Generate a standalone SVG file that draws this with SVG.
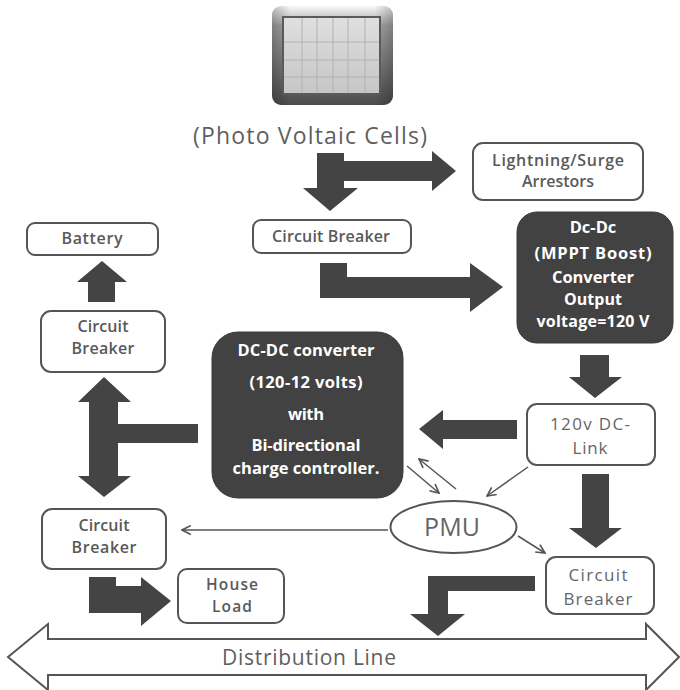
<svg xmlns="http://www.w3.org/2000/svg" width="680" height="690" viewBox="0 0 680 690">
  <style>
    .box { fill: #ffffff; stroke: #555555; stroke-width: 2; }
    .dark { fill: #424242; stroke: #3a3a3a; stroke-width: 1; }
    .flow { fill: #444444; }
    .thin { fill: none; stroke: #555555; stroke-width: 1.5; }
    .lbl { font-family: "Open Sans", "Liberation Sans", sans-serif; font-weight: 600; font-size: 16px; fill: #595959; text-anchor: middle; }
    .light { font-family: "Open Sans", "Liberation Sans", sans-serif; font-weight: 400; font-size: 17px; fill: #666666; text-anchor: middle; }
    .inv { font-family: "Open Sans", "Liberation Sans", sans-serif; font-weight: 700; font-size: 16.5px; fill: #ffffff; text-anchor: middle; }
    .big { font-family: "Open Sans", "Liberation Sans", sans-serif; font-weight: 400; fill: #5f5f5f; text-anchor: middle; }
  </style>
  <defs>
    <marker id="head" viewBox="0 0 10 10" refX="9" refY="5" markerWidth="11" markerHeight="11" markerUnits="userSpaceOnUse" orient="auto">
      <path d="M1,1 L9,5 L1,9" fill="none" stroke="#555555" stroke-width="1.5"/>
    </marker>
    <linearGradient id="frame" x1="0" y1="0" x2="0" y2="1">
      <stop offset="0" stop-color="#f8f8f8"/>
      <stop offset="0.2" stop-color="#a4a4a4"/>
      <stop offset="0.7" stop-color="#6e6e6e"/>
      <stop offset="1" stop-color="#4c4c4c"/>
    </linearGradient>
    <linearGradient id="frameSide" x1="0" y1="0" x2="1" y2="0">
      <stop offset="0" stop-color="#000000" stop-opacity="0.22"/>
      <stop offset="0.15" stop-color="#000000" stop-opacity="0"/>
      <stop offset="0.85" stop-color="#000000" stop-opacity="0"/>
      <stop offset="1" stop-color="#000000" stop-opacity="0.22"/>
    </linearGradient>
    <linearGradient id="cells" x1="0" y1="0" x2="0" y2="1">
      <stop offset="0" stop-color="#e0e0e0"/>
      <stop offset="0.5" stop-color="#d2d2d2"/>
      <stop offset="1" stop-color="#c6c6c6"/>
    </linearGradient>
  </defs>

  <!-- solar panel icon -->
  <g id="pv">
    <rect x="272" y="6" width="121" height="99" rx="9" fill="url(#frame)"/>
    <rect x="272" y="6" width="121" height="99" rx="9" fill="url(#frameSide)"/>
    <rect x="283" y="17" width="97" height="77" fill="url(#cells)" stroke="#5a5a5a" stroke-width="2"/>
    <g stroke="#b2b2b2" stroke-width="1">
      <line x1="302" y1="18" x2="302" y2="93"/>
      <line x1="317" y1="18" x2="317" y2="93"/>
      <line x1="333" y1="18" x2="333" y2="93"/>
      <line x1="348" y1="18" x2="348" y2="93"/>
      <line x1="365" y1="18" x2="365" y2="93"/>
      <line x1="284" y1="42" x2="379" y2="42"/>
      <line x1="284" y1="60" x2="379" y2="60"/>
      <line x1="284" y1="77" x2="379" y2="77"/>
    </g>
    <text class="big" x="310" y="144" style="font-size:23px" textLength="234">(Photo Voltaic Cells)</text>
  </g>

  <!-- flow connectors -->
  <g id="connectors">
    <!-- PV split: down to breaker, right to arrestors -->
    <path class="flow" d="M317,153 L344,153 L344,161 L432,161 L432,151 L456,171 L432,191 L432,181 L344,181 L344,188 L358,188 L330,211 L303,188 L317,188 Z"/>
    <!-- breaker to MPPT converter -->
    <path class="flow" d="M320,263 L347,263 L347,277 L470,277 L470,263 L503,287 L470,312 L470,298 L320,298 Z"/>
    <!-- MPPT converter to DC link -->
    <path class="flow" d="M580,355 L609,355 L609,377 L622,377 L595,398 L569,377 L580,377 Z"/>
    <!-- DC link to bidirectional converter -->
    <path class="flow" d="M517,420 L517,439 L443,439 L443,449 L419,429 L443,410 L443,420 Z"/>
    <!-- DC link to lower breaker -->
    <path class="flow" d="M582,474 L609,474 L609,528 L622,528 L596,548 L569,528 L582,528 Z"/>
    <!-- lower breaker to distribution line -->
    <path class="flow" d="M535,576 L535,591 L448,591 L448,614 L465,614 L438,636 L410,614 L428,614 L428,576 Z"/>
    <!-- breaker up to battery -->
    <path class="flow" d="M102,261 L127,282 L115,282 L115,302 L88,302 L88,282 L77,282 Z"/>
    <!-- bidirectional converter branch between breakers -->
    <path class="flow" d="M104,377 L131,402 L118,402 L118,424 L198,424 L198,443 L118,443 L118,476 L131,476 L104,497 L78,476 L89,476 L89,402 L78,402 Z"/>
    <!-- breaker to house load -->
    <path class="flow" d="M89,577 L116,577 L116,586 L141,586 L141,577 L171,601 L141,626 L141,613 L89,613 Z"/>
    <!-- PMU signal lines -->
    <line class="thin" x1="407" y1="466" x2="439" y2="493" marker-end="url(#head)"/>
    <line class="thin" x1="456" y1="489" x2="419" y2="459" marker-end="url(#head)"/>
    <line class="thin" x1="528" y1="467" x2="487" y2="496" marker-end="url(#head)"/>
    <line class="thin" x1="388" y1="530" x2="182" y2="530" marker-end="url(#head)"/>
    <line class="thin" x1="518" y1="536" x2="545" y2="553" marker-end="url(#head)"/>
  </g>

  <g id="battery">
    <rect class="box" x="27" y="223" width="131" height="32" rx="8"/>
    <text class="lbl" x="92" y="244" textLength="61">Battery</text>
  </g>

  <g id="breaker-pv">
    <rect class="box" x="253" y="220" width="158" height="33" rx="8"/>
    <text class="lbl" x="331" y="242" textLength="118">Circuit Breaker</text>
  </g>

  <g id="arrestors">
    <rect class="box" x="473" y="143" width="170" height="57" rx="10"/>
    <text class="lbl" x="558" y="166" textLength="132">Lightning/Surge</text>
    <text class="lbl" x="558" y="187" textLength="72">Arrestors</text>
  </g>

  <g id="mppt">
    <rect class="dark" x="517" y="212" width="156" height="131" rx="20"/>
    <text class="inv" x="593" y="233">Dc-Dc</text>
    <text class="inv" x="593" y="259" textLength="117">(MPPT Boost)</text>
    <text class="inv" x="593" y="283" textLength="82">Converter</text>
    <text class="inv" x="593" y="305" style="font-size:16px">Output</text>
    <text class="inv" x="593" y="327" style="font-size:16px" textLength="113">voltage=120 V</text>
  </g>

  <g id="breaker-battery">
    <rect class="box" x="41" y="311" width="124" height="61" rx="10"/>
    <text class="lbl" x="103" y="332" textLength="51">Circuit</text>
    <text class="lbl" x="103" y="354" textLength="63">Breaker</text>
  </g>

  <g id="bidirectional">
    <rect class="dark" x="212" y="332" width="191" height="166" rx="26"/>
    <text class="inv" x="306" y="356" textLength="137">DC-DC converter</text>
    <text class="inv" x="306" y="388" textLength="113">(120-12 volts)</text>
    <text class="inv" x="306" y="420" textLength="36">with</text>
    <text class="inv" x="306" y="451" textLength="109">Bi-directional</text>
    <text class="inv" x="306" y="474" textLength="147">charge controller.</text>
  </g>

  <g id="dc-link">
    <rect class="box" x="527" y="404" width="128" height="61" rx="10"/>
    <text class="light" x="590" y="430" textLength="80">120v DC-</text>
    <text class="light" x="590" y="454" textLength="35">Link</text>
  </g>

  <g id="pmu">
    <ellipse class="box" cx="453.5" cy="527" rx="63" ry="26"/>
    <text class="light" x="452" y="536" style="font-size:25px" textLength="56">PMU</text>
  </g>

  <g id="breaker-load">
    <rect class="box" x="42" y="509" width="124" height="60" rx="10"/>
    <text class="lbl" x="104" y="531" textLength="51">Circuit</text>
    <text class="lbl" x="104" y="553" textLength="65">Breaker</text>
  </g>

  <g id="house-load">
    <rect class="box" x="178" y="569" width="106" height="54" rx="9"/>
    <text class="lbl" x="232" y="590" style="font-size:15.5px" textLength="52">House</text>
    <text class="lbl" x="232" y="612" style="font-size:15.5px" textLength="40">Load</text>
  </g>

  <g id="breaker-grid">
    <rect class="box" x="546" y="557" width="108" height="57" rx="10"/>
    <text class="light" x="598" y="581" textLength="59">Circuit</text>
    <text class="light" x="598" y="605" textLength="69">Breaker</text>
  </g>

  <g id="distribution-line">
    <path d="M8,657 L48,624 L48,639 L646,639 L646,624 L679,657 L646,690 L646,675 L48,675 L48,690 Z" fill="#ffffff" stroke="#555555" stroke-width="2"/>
    <text class="big" x="309" y="665" style="font-size:21px" textLength="174">Distribution Line</text>
  </g>
</svg>
